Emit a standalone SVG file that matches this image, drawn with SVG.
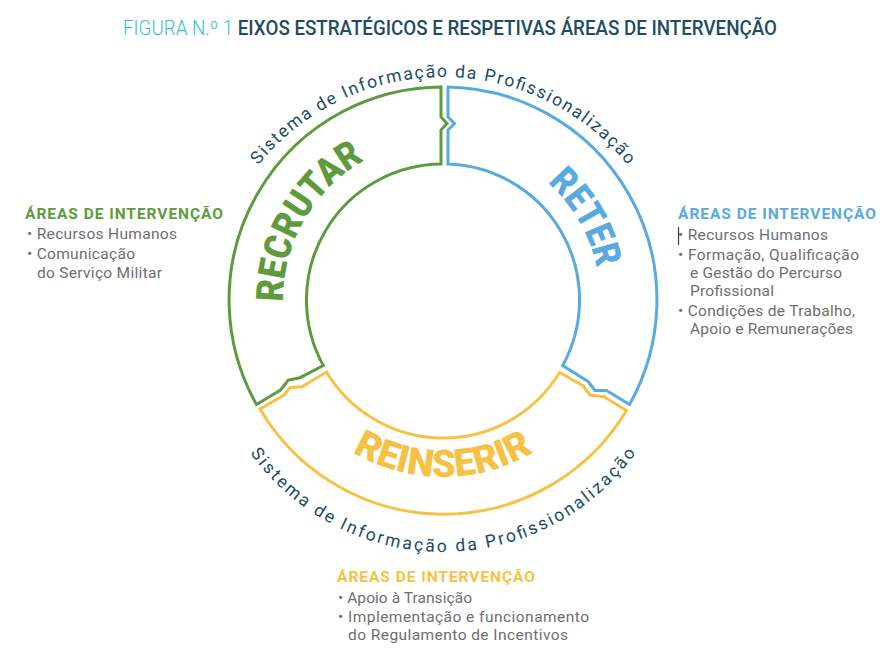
<svg xmlns="http://www.w3.org/2000/svg" width="892" height="654" viewBox="0 0 892 654">
<style>
  .ring { fill: #ffffff; stroke-width: 3; stroke-linejoin: miter; }
  .g { stroke: #5e9b3c; }
  .b { stroke: #58aadf; }
  .y { stroke: #f5c246; }
  .big { font-family: Roboto, "Liberation Sans", sans-serif; font-weight: 900; font-size: 38px; }
  .arc { font-family: Roboto, "Liberation Sans", sans-serif; font-size: 17.5px; fill: #1c4c63; }
  .head { font-family: Roboto, "Liberation Sans", sans-serif; font-weight: 700; font-size: 15.5px; }
  .body { font-family: Roboto, "Liberation Sans", sans-serif; font-size: 15.5px; fill: #6e6e70; }
</style>
<defs>
  <path id="pRec" d="M 304.44,380 A 160 160 0 0 1 443,140"/>
  <path id="pRet" d="M 443,143 A 157 157 0 0 1 578.97,378.5"/>
  <path id="pRei" d="M 289.71,388.5 A 177 177 0 0 0 596.29,388.5"/>
  <path id="pTop" d="M 205.5,314.5 A 237.5 237.5 0 0 1 680.5,314.5"/>
  <path id="pBot" d="M 205.5,314.5 A 237.5 237.5 0 0 0 680.5,314.5"/>
</defs>
<rect width="892" height="654" fill="#ffffff"/>

<g id="title">
  <text x="123" y="34.5" font-family="Roboto, 'Liberation Sans', sans-serif" font-size="19.5" textLength="654" lengthAdjust="spacingAndGlyphs"><tspan fill="#33bfc3" font-weight="300">FIGURA N.º 1 </tspan><tspan fill="#1d4d5e" font-weight="500">EIXOS ESTRATÉGICOS E RESPETIVAS ÁREAS DE INTERVENÇÃO</tspan></text>
</g>

<g id="seg-recrutar">
  <path class="ring g" d="M 256.5,404.5 A 213 213 0 0 1 441,87 L 441,117 L 447,123.5 L 441,130 L 441,164 A 136 136 0 0 0 323.3,365.5 L 300,377.7 L 288.3,380 L 280.5,390 Z"/>
  <text class="big" fill="#5e9b3c"><textPath href="#pRec" startOffset="50%" text-anchor="middle" textLength="171" lengthAdjust="spacingAndGlyphs">RECRUTAR</textPath></text>
</g>

<g id="seg-reter">
  <path class="ring b" d="M 448,87 A 213 213 0 0 1 629.5,404.5 L 606.5,390.5 L 595,390.5 L 588,381.5 L 562.7,365.5 A 136 136 0 0 0 448,164 L 448,130 L 454.5,123.5 L 448,117 Z"/>
  <text class="big" fill="#58aadf"><textPath href="#pRet" startOffset="50%" text-anchor="middle" textLength="100" lengthAdjust="spacingAndGlyphs">RETER</textPath></text>
</g>

<g id="seg-reinserir">
  <path class="ring y" d="M 626.5,410.5 A 213 213 0 0 1 260,409 L 284,395 L 290,387.5 L 302,386.7 L 326.5,372 A 136 136 0 0 0 559.5,372.5 L 583.3,386 L 590,395 L 604,396.7 Z"/>
  <text class="big" fill="#f5c246" font-size="35"><textPath href="#pRei" startOffset="50%" text-anchor="middle" textLength="190" lengthAdjust="spacingAndGlyphs">REINSERIR</textPath></text>
</g>

<g id="arc-labels">
  <text class="arc"><textPath href="#pTop" startOffset="50%" text-anchor="middle" textLength="423" lengthAdjust="spacing">Sistema de Informação da Profissionalização</textPath></text>
  <text class="arc"><textPath href="#pBot" startOffset="50%" text-anchor="middle" textLength="450" lengthAdjust="spacing">Sistema de Informação da Profissionalização</textPath></text>
</g>

<g id="areas-recrutar">
  <text class="head" fill="#5e9b3c" x="25" y="218.5" textLength="198" lengthAdjust="spacing">ÁREAS DE INTERVENÇÃO</text>
  <text class="body" x="27" y="239" textLength="150" lengthAdjust="spacing">• Recursos Humanos</text>
  <text class="body" x="27" y="259" textLength="108" lengthAdjust="spacing">• Comunicação</text>
  <text class="body" x="37" y="277.5" textLength="125" lengthAdjust="spacing">do Serviço Militar</text>
</g>

<g id="areas-reter">
  <text class="head" fill="#58aadf" x="678" y="218.5" textLength="198" lengthAdjust="spacing">ÁREAS DE INTERVENÇÃO</text>
  <line x1="678.5" y1="227" x2="678.5" y2="245" stroke="#3a3a3a" stroke-width="1.2"/>
  <text class="body" x="678" y="240" textLength="150" lengthAdjust="spacing">• Recursos Humanos</text>
  <text class="body" x="678" y="260" textLength="181" lengthAdjust="spacing">• Formação, Qualificação</text>
  <text class="body" x="690" y="278" textLength="152" lengthAdjust="spacing">e Gestão do Percurso</text>
  <text class="body" x="690" y="296" textLength="84" lengthAdjust="spacing">Profissional</text>
  <text class="body" x="678" y="316" textLength="177" lengthAdjust="spacing">• Condições de Trabalho,</text>
  <text class="body" x="690" y="334" textLength="163" lengthAdjust="spacing">Apoio e Remunerações</text>
</g>

<g id="areas-reinserir">
  <text class="head" fill="#f5c246" x="337" y="582" textLength="198" lengthAdjust="spacing">ÁREAS DE INTERVENÇÃO</text>
  <text class="body" x="338" y="602.7" textLength="134" lengthAdjust="spacing">• Apoio à Transição</text>
  <text class="body" x="338" y="621.7" textLength="251" lengthAdjust="spacing">• Implementação e funcionamento</text>
  <text class="body" x="348" y="640" textLength="220" lengthAdjust="spacing">do Regulamento de Incentivos</text>
</g>
</svg>
